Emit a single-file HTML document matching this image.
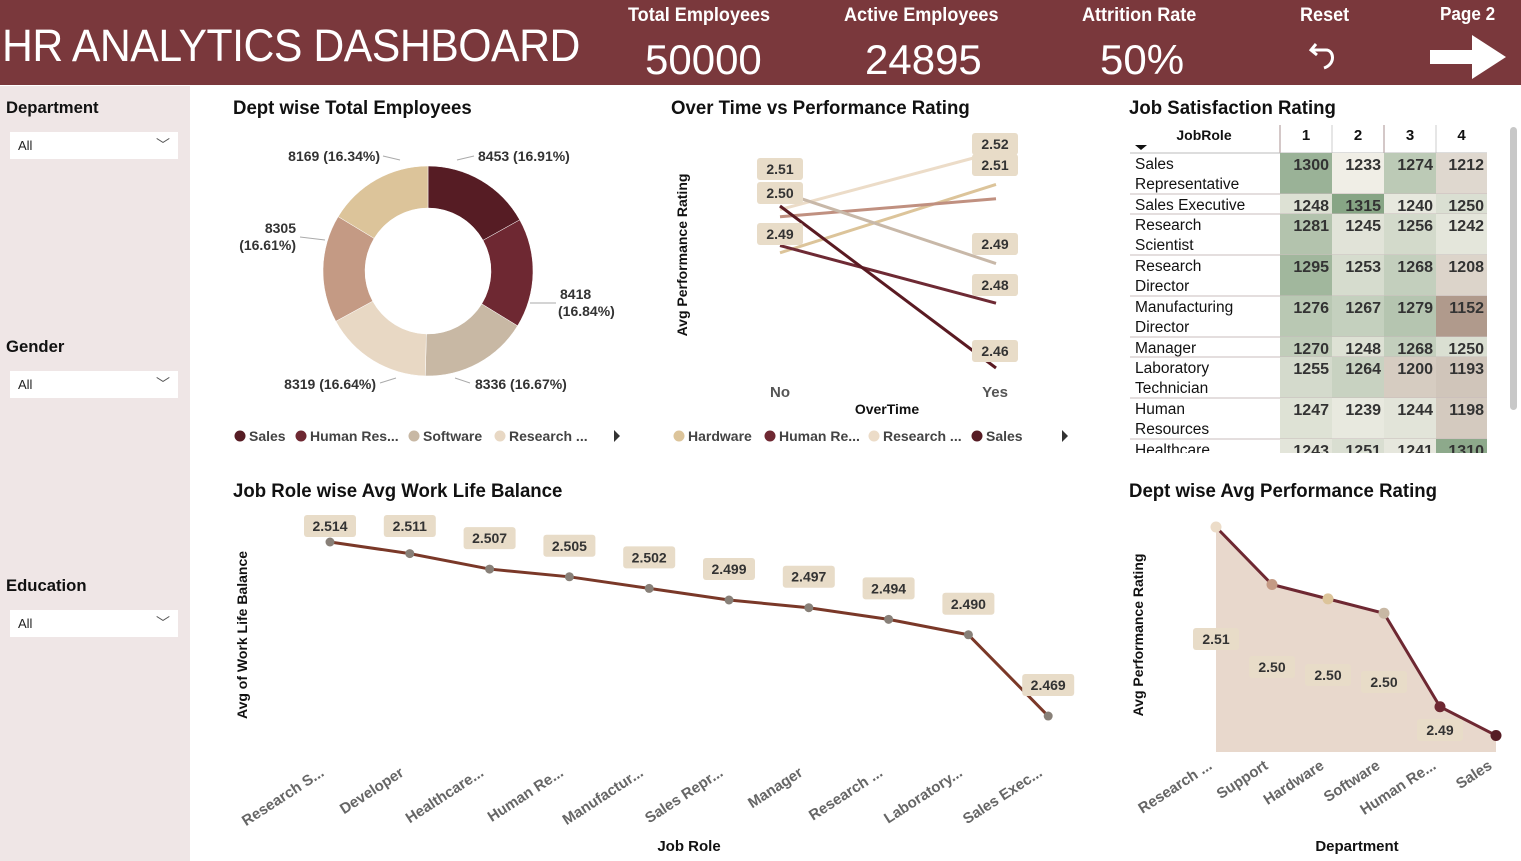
<!DOCTYPE html>
<html><head><meta charset="utf-8">
<style>
*{margin:0;padding:0;box-sizing:border-box}
body{width:1521px;height:861px;background:#fff;font-family:"Liberation Sans",sans-serif;position:relative;overflow:hidden}
.hdr{position:absolute;left:0;top:0;width:1521px;height:85px;background:#7a383c;color:#fff}
.side{position:absolute;left:0;top:86px;width:190px;height:775px;background:#efe6e6}
.abs{position:absolute}
.sl-t{position:absolute;left:6px;font-weight:bold;font-size:17px;color:#111;transform:scaleX(.98);transform-origin:left}
.dd{position:absolute;left:10px;width:168px;height:27px;background:#fff;font-size:13px;padding:6px 8px;color:#222}
.dd span{position:absolute;right:8px;top:3px;font-size:14px;color:#555}
.title{position:absolute;font-weight:bold;font-size:19px;color:#111;transform:scaleX(.98);transform-origin:left}
.kl{position:absolute;top:5px;font-size:19px;font-weight:bold;transform:scaleX(.95);transform-origin:left}
svg text{font-family:"Liberation Sans",sans-serif}
</style></head><body>
<div class="hdr">
 <div class="abs" style="left:2px;top:20px;font-size:45px;letter-spacing:-0.5px;transform:scaleX(.95);transform-origin:left">HR ANALYTICS DASHBOARD</div>
 <div class="kl" style="left:628px">Total Employees</div>
 <div class="abs" style="left:645px;top:36px;font-size:42px">50000</div>
 <div class="kl" style="left:844px">Active Employees</div>
 <div class="abs" style="left:865px;top:36px;font-size:42px">24895</div>
 <div class="kl" style="left:1082px">Attrition Rate</div>
 <div class="abs" style="left:1100px;top:36px;font-size:42px">50%</div>
 <div class="kl" style="left:1300px">Reset</div>
 <svg class="abs" style="left:1308px;top:38px" width="36" height="36"><path d="M8,6 L3,12 L9,17 M3,12 L18,12 C26,12 28,26 16,30" fill="none" stroke="#fff" stroke-width="3"/></svg>
 <div class="kl" style="left:1440px;top:4px;font-size:18px">Page 2</div>
 <svg class="abs" style="left:1428px;top:33px" width="80" height="48"><polygon points="2,17 44,17 44,2 78,24 44,46 44,31 2,31" fill="#fff"/></svg>
</div>
<div class="side"></div>
<div class="sl-t" style="top:98px">Department</div>
<div class="dd" style="top:132px">All<span>﹀</span></div>
<div class="sl-t" style="top:337px">Gender</div>
<div class="dd" style="top:371px">All<span>﹀</span></div>
<div class="sl-t" style="top:576px">Education</div>
<div class="dd" style="top:610px">All<span>﹀</span></div>

<div class="title" style="left:233px;top:98px">Dept wise Total Employees</div>
<div class="title" style="left:671px;top:98px">Over Time vs Performance Rating</div>
<div class="title" style="left:1129px;top:98px">Job Satisfaction Rating</div>
<div class="title" style="left:233px;top:481px">Job Role wise Avg Work Life Balance</div>
<div class="title" style="left:1129px;top:481px">Dept wise Avg Performance Rating</div>

<svg id="main" class="abs" style="left:0;top:0" width="1521" height="861"></svg>

<script>
// ---- Donut data ----
const donutCats=["Sales","Human Resources","Software","Research","Support","Hardware"];
const donutVals=[8453,8418,8336,8319,8305,8169];
const donutLabels=["8453 (16.91%)","8418 (16.84%)","8336 (16.67%)","8319 (16.64%)","8305 (16.61%)","8169 (16.34%)"];
// ---- Overtime data ----
const otCats=["No","Yes"];
const otSeriesNames=["Research","Hardware","Support","Software","Human Resources","Sales"];
const otResearch=[2.504,2.520];
const otHardware=[2.492,2.511];
const otSupport=[2.502,2.507];
const otSoftware=[2.509,2.489];
const otHR=[2.494,2.478];
const otSales=[2.505,2.460];
// ---- Heatmap data ----
const hmRoles=["Sales|Representative","Sales Executive","Research|Scientist","Research|Director","Manufacturing|Director","Manager","Laboratory|Technician","Human|Resources","Healthcare"];
const hmCols=["1","2","3","4"];
const hmVals=[[1300,1233,1274,1212],[1248,1315,1240,1250],[1281,1245,1256,1242],[1295,1253,1268,1208],[1276,1267,1279,1152],[1270,1248,1268,1250],[1255,1264,1200,1193],[1247,1239,1244,1198],[1243,1251,1241,1310]];
// ---- Work life balance ----
const wlbCats=["Research S...","Developer","Healthcare...","Human Re...","Manufactur...","Sales Repr...","Manager","Research ...","Laboratory...","Sales Exec..."];
const wlbVals=[2.514,2.511,2.507,2.505,2.502,2.499,2.497,2.494,2.490,2.469];
const wlbLabels=["2.514","2.511","2.507","2.505","2.502","2.499","2.497","2.494","2.490","2.469"];
// ---- Dept performance ----
const dpCats=["Research ...","Support","Hardware","Software","Human Re...","Sales"];
const dpVals=[2.512,2.504,2.502,2.500,2.487,2.483];
const dpLabels=["2.51","2.50","2.50","2.50","2.49",""];

const NS="http://www.w3.org/2000/svg";
const S=document.getElementById('main');
function mk(tag,attrs,parent){const e=document.createElementNS(NS,tag);for(const k in attrs)e.setAttribute(k,attrs[k]);(parent||S).appendChild(e);return e;}
function txt(x,y,s,attrs){const t=mk('text',Object.assign({x:x,y:y},attrs||{}));t.textContent=s;return t;}
function badge(cx,cy,s,w){
  const r=mk('rect',{x:cx-w/2,y:cy-11,width:w,height:22,rx:3,fill:'#e8dcc8'});
  
  
  const t=txt(cx,cy+5,s,{'text-anchor':'middle','font-size':14,'font-weight':'bold',fill:'#333'});
  
  
}

// ===== Donut =====
const donutColors=["#561c24","#6e2832","#c8b8a4","#e8d8c4","#c49a84","#dcc49a"];
(function(){
  const cx=428,cy=271,R=105,r=63;
  const tot=donutVals.reduce((a,b)=>a+b,0);
  let a0=-Math.PI/2;
  donutVals.forEach((v,i)=>{
    const a1=a0+v/tot*2*Math.PI;
    const p=(ang,rad)=>[cx+rad*Math.cos(ang),cy+rad*Math.sin(ang)];
    const [x1,y1]=p(a0,R),[x2,y2]=p(a1,R),[x3,y3]=p(a1,r),[x4,y4]=p(a0,r);
    const el=mk('path',{d:`M${x1},${y1}A${R},${R} 0 0 1 ${x2},${y2}L${x3},${y3}A${r},${r} 0 0 0 ${x4},${y4}Z`,fill:donutColors[i],stroke:'#fff','stroke-width':0.5});
    
    
    a0=a1;
  });
  const lp=[[478,161,'start'],[560,299,'start'],[475,389,'start'],[376,389,'end'],[296,233,'end'],[380,161,'end']];
  donutLabels.forEach((s,i)=>{
    const [x,y,an]=lp[i];
    if(i==1||i==4){const parts=s.split(' ');
      const t1=txt(x,y,parts[0],{'font-size':14,'font-weight':'bold',fill:'#333','text-anchor':i==4?'end':'start'});
      
      const t2=txt(i==4?x:x-2,y+17,parts[1],{'font-size':14,'font-weight':'bold',fill:'#333','text-anchor':i==4?'end':'start'});
      
    } else {const t=txt(x,y,s,{'font-size':14,'font-weight':'bold',fill:'#333','text-anchor':an});
      }
  });
  [[457,160,474,156],[530,303,556,303],[455,378,470,383],[396,378,380,383],[325,240,300,237],[400,160,383,156]].forEach(l=>{
    const e=mk('polyline',{points:`${l[0]},${l[1]} ${l[2]},${l[3]}`,stroke:'#aaa',fill:'none'});
    });
  const leg=[["Sales",0,235],["Human Res...",1,296],["Software",2,409],["Research ...",3,495]];
  leg.forEach(l=>{const c=mk('circle',{cx:l[2]+5,cy:436,r:5.5,fill:donutColors[l[1]]});
    
    const t=txt(l[2]+14,441,l[0],{'font-size':14,'font-weight':'bold',fill:'#444'});
    });
  const ar=mk('polygon',{points:'614,430 620,436 614,442',fill:'#333'});
  
})();

// ===== Overtime =====
(function(){
  const xs=v=>v===0?780:996;
  const ys=v=>152+(2.52-v)*3600;
  const series=[otResearch,otHardware,otSupport,otSoftware,otHR,otSales];
  const cols=["#ecdcc8","#dcc49a","#c09080","#c8b8a8","#6e2a34","#5a1a22"];
  series.forEach((s,i)=>{
    const l=mk('line',{x1:xs(0),y1:ys(s[0]),x2:xs(1),y2:ys(s[1]),stroke:cols[i],'stroke-width':3});
    
    
  });
  badge(780,169,"2.51",46);badge(780,193,"2.50",46);badge(780,234,"2.49",46);
  badge(995,144,"2.52",46);badge(995,165,"2.51",46);badge(995,244,"2.49",46);badge(995,285,"2.48",46);badge(995,351,"2.46",46);
  otCats.forEach((c,i)=>{const t=txt(i?995:780,397,c,{'font-size':15,'font-weight':'bold',fill:'#555','text-anchor':'middle'});
    });
  let t=txt(887,414,"OverTime",{'font-size':14,'font-weight':'bold',fill:'#111','text-anchor':'middle'});
  
  t=txt(0,0,"Avg Performance Rating",{'font-size':14,'font-weight':'bold',fill:'#111','text-anchor':'middle',transform:'translate(687,255) rotate(-90)'});
  
  const leg=[["Hardware","#dcc49a",674],["Human Re...","#6e2832",765],["Research ...","#ecdcc8",869],["Sales","#561c24",972]];
  leg.forEach(l=>{const c=mk('circle',{cx:l[2]+5,cy:436,r:5.5,fill:l[1]});
    
    const tt=txt(l[2]+14,441,l[0],{'font-size':14,'font-weight':'bold',fill:'#444'});
    });
  const ar=mk('polygon',{points:'1062,430 1068,436 1062,442',fill:'#333'});
  
})();

// ===== Heatmap =====
(function(){
  const g=mk('g',{'clip-path':'url(#hmclip)'});
  const cp=mk('clipPath',{id:'hmclip'});mk('rect',{x:1120,y:120,width:380,height:333},cp);
  
  const colX=[1280,1332,1384,1436,1487];
  const hex=h=>[parseInt(h.slice(1,3),16),parseInt(h.slice(3,5),16),parseInt(h.slice(5,7),16)];
  const mid=hex('#f0eee6'),lo=hex('#b09a8c'),hi=hex('#87a585');
  function color(v){let a,b,t;if(v<1233){a=mid;b=lo;t=(1233-v)/(1233-1152);}else{a=mid;b=hi;t=(v-1233)/(1315-1233);}
    t=Math.max(0,Math.min(1,t));return 'rgb('+a.map((x,i)=>Math.round(x+(b[i]-x)*t)).join(',')+')';}
  let t=txt(1204,140,"JobRole",{'font-size':14,'font-weight':'bold',fill:'#111','text-anchor':'middle'});
  g.appendChild(t);
  mk('polygon',{points:'1135,145 1147,145 1141,150',fill:'#111'},g);
  hmCols.forEach((c,j)=>{const tt=txt((colX[j]+colX[j+1])/2,140,c,{'font-size':15,'font-weight':'bold',fill:'#111','text-anchor':'middle'});g.appendChild(tt);
    
    mk('line',{x1:colX[j],y1:125,x2:colX[j],y2:153,stroke:j%2?'#ccc':'#a89090'},g);});
  mk('line',{x1:1130,y1:153,x2:1487,y2:153,stroke:'#bbb'},g);
  let y=153;
  hmRoles.forEach((role,i)=>{
    const lines=role.split('|');const h=lines.length>1?41:20;
    hmVals[i].forEach((v,j)=>{
      const r=mk('rect',{x:colX[j],y:y,width:colX[j+1]-colX[j],height:h,fill:color(v)},g);
      
      const tt=txt(colX[j+1]-3,y+17,String(v),{'font-size':16,'font-weight':'bold',fill:'#333','text-anchor':'end'});g.appendChild(tt);
      
    });
    lines.forEach((l,k)=>{const tt=txt(1135,y+16+k*20,l,{'font-size':15.5,fill:'#111'});g.appendChild(tt);
      });
    y+=h;
    mk('line',{x1:1130,y1:y,x2:1487,y2:y,stroke:'#c8bcbc'},g);
  });
  const sb=mk('rect',{x:1510,y:127,width:7,height:283,rx:3.5,fill:'#c8c8c8'});
  
})();

// ===== Work life balance =====
(function(){
  const x0=330,dx=79.8;
  const xs=i=>x0+i*dx;
  const ys=v=>542+(2.514-v)*3867;
  const pts=wlbVals.map((v,i)=>xs(i)+','+ys(v)).join(' ');
  const pl=mk('polyline',{points:pts,fill:'none',stroke:'#7a3828','stroke-width':3});
  
  wlbVals.forEach((v,i)=>{
    const c=mk('circle',{cx:xs(i),cy:ys(v),r:4.5,fill:'#888078'});
    
    badge(xs(i),Math.max(526,ys(v)-31),wlbLabels[i],52);
    const t=txt(0,0,wlbCats[i],{'font-size':15,'font-weight':'bold',fill:'#666','text-anchor':'end',transform:`translate(${xs(i)-5},${775}) rotate(-33)`});
    
  });
  let t=txt(689,851,"Job Role",{'font-size':15,'font-weight':'bold',fill:'#111','text-anchor':'middle'});
  
  t=txt(0,0,"Avg of Work Life Balance",{'font-size':14,'font-weight':'bold',fill:'#111','text-anchor':'middle',transform:'translate(247,635) rotate(-90)'});
  
})();

// ===== Dept performance =====
(function(){
  const x0=1216,dx=56;
  const xs=i=>x0+i*dx;
  const ymin=2.4807,ymax=2.512;
  const ys=v=>752-(v-ymin)/(ymax-ymin)*225;
  const pts=dpVals.map((v,i)=>xs(i)+','+ys(v));
  const area=mk('polygon',{points:xs(0)+',752 '+pts.join(' ')+' '+xs(dpVals.length-1)+',752',fill:'#e8d8cc'});
  
  const pl=mk('polyline',{points:pts.join(' '),fill:'none',stroke:'#6e2832','stroke-width':3});
  
  const pc=["#ecdcc8","#c49a84","#dcc49a","#c8b8a4","#6e2832","#561c24"];
  const lblY=[639,667,675,682,730];
  dpVals.forEach((v,i)=>{
    const c=mk('circle',{cx:xs(i),cy:ys(v),r:5.5,fill:pc[i]});
    
    if(dpLabels[i])badge(xs(i),lblY[i],dpLabels[i],46);
    const t=txt(0,0,dpCats[i],{'font-size':15,'font-weight':'bold',fill:'#666','text-anchor':'end',transform:`translate(${xs(i)-3},${768}) rotate(-33)`});
    
  });
  let t=txt(1357,851,"Department",{'font-size':15,'font-weight':'bold',fill:'#111','text-anchor':'middle'});
  
  t=txt(0,0,"Avg Performance Rating",{'font-size':14,'font-weight':'bold',fill:'#111','text-anchor':'middle',transform:'translate(1143,635) rotate(-90)'});
  
})();
</script>
</body></html>
